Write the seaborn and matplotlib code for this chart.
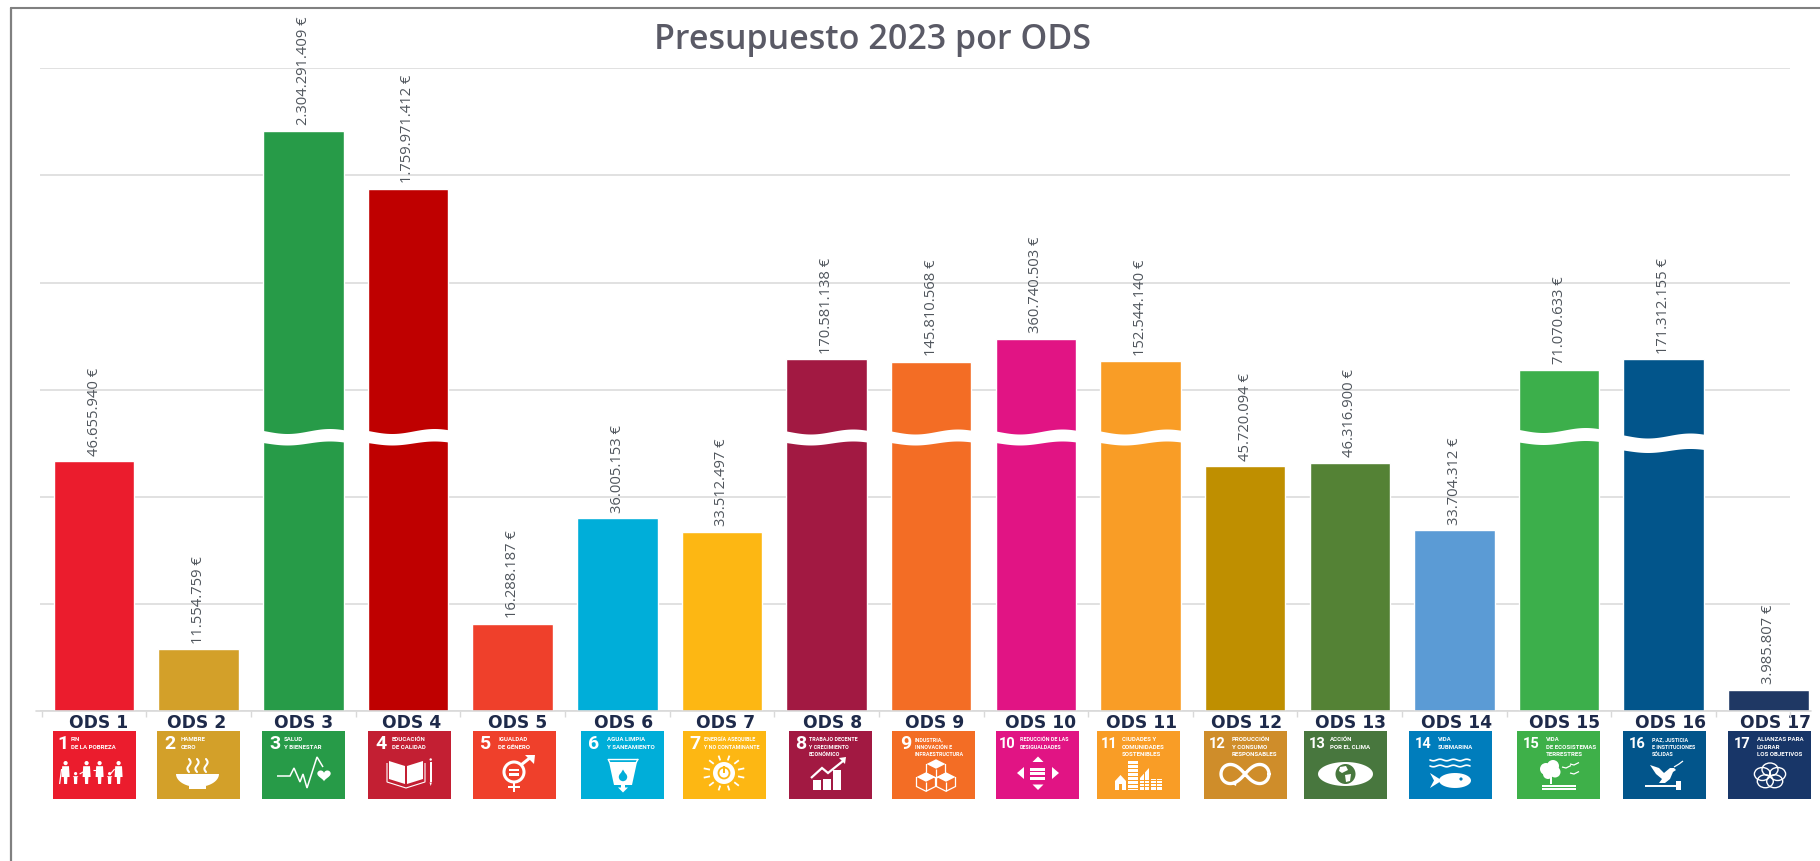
import matplotlib
matplotlib.use('Agg')

import numpy as np
import pandas as pd
import seaborn as sns
import matplotlib.pyplot as plt
from matplotlib.lines import Line2D
from matplotlib.patches import Circle, Ellipse, Polygon, Rectangle

# --- chart data ---
ods_labels = [f"ODS {n}" for n in range(1, 18)]
budget = [46655940, 11554759, 2304291409, 1759971412, 16288187, 36005153, 33512497,
          170581138, 145810568, 360740503, 152544140, 45720094, 46316900, 33704312,
          71070633, 171312155, 3985807]
bar_colors = ["#EB1C2D", "#D3A029", "#279B48", "#BF0000", "#EF402B", "#00AED9", "#FDB713",
              "#A21942", "#F36D25", "#E11484", "#F99D26", "#BF8F00", "#548235", "#5B9BD5",
              "#3CAF4B", "#02558B", "#1F3864"]
tile_colors = ["#EB1C2D", "#D3A029", "#279B48", "#C31F33", "#EF402B", "#00AED9", "#FDB713",
               "#A21942", "#F36D25", "#E11484", "#F99D26", "#CF8D2A", "#48773E", "#007DBC",
               "#3EB049", "#02558B", "#183668"]
tile_texts = [["FIN", "DE LA POBREZA"], ["HAMBRE", "CERO"], ["SALUD", "Y BIENESTAR"],
              ["EDUCACIÓN", "DE CALIDAD"], ["IGUALDAD", "DE GÉNERO"],
              ["AGUA LIMPIA", "Y SANEAMIENTO"], ["ENERGÍA ASEQUIBLE", "Y NO CONTAMINANTE"],
              ["TRABAJO DECENTE", "Y CRECIMIENTO", "ECONÓMICO"],
              ["INDUSTRIA,", "INNOVACIÓN E", "INFRAESTRUCTURA"],
              ["REDUCCIÓN DE LAS", "DESIGUALDADES"],
              ["CIUDADES Y", "COMUNIDADES", "SOSTENIBLES"],
              ["PRODUCCIÓN", "Y CONSUMO", "RESPONSABLES"], ["ACCIÓN", "POR EL CLIMA"],
              ["VIDA", "SUBMARINA"], ["VIDA", "DE ECOSISTEMAS", "TERRESTRES"],
              ["PAZ, JUSTICIA", "E INSTITUCIONES", "SÓLIDAS"],
              ["ALIANZAS PARA", "LOGRAR", "LOS OBJETIVOS"]]

# broken axis: linear up to the cut, then a much flatter stretch
scale_values = [0, 52e6, 53e6, 3000e6]
scale_display = [0, 52e6, 63.32e6, 122.26e6]
grid_display = [0, 20e6, 40e6, 60e6, 80e6, 100e6, 120e6]

# --- layout, in pixels of the final image ---
W, H = 1820, 861
AX_LEFT, AX_RIGHT, AX_TOP, AX_BOTTOM = 40, 1790, 68.3, 711
FIRST_CENTER, STEP = 94, 104.65
tile_left = [52.6, 157, 262, 368, 473, 581, 683, 789, 892, 996, 1097, 1204, 1304, 1409, 1517, 1623, 1728]
label_nudge = [4, -2, 0, 2, 3, 1, 1, 2, 1, 3, 3, 1, 5, 6, 6, 6, 6]
tile_num_x = [10, 13, 13, 13, 13, 13, 12, 12, 14, 13, 14, 15, 15, 16, 16, 16, 16]
tile_text_x = [18, 24, 22, 24, 25, 26, 21, 20, 23, 24, 25, 28, 26, 29, 29, 29, 29]
TILE_W, TILE_H, TILE_TOP = 83, 68, 731
break_bars = [2, 3, 7, 8, 9, 10, 14, 15]
break_top = [431, 431, 431.5, 431.5, 431.5, 431.5, 430, 435.5]
break_height = [12, 12, 11.5, 11.5, 11.5, 11.5, 12.5, 15]
BAR_WIDTH = 0.77

NAVY = "#1E2A4A"
GRID = "#D9D9D9"
FRAME = "#808080"
TEXT_GRAY = "#4F555C"
NARROW = ["Liberation Sans Narrow", "Roboto", "DejaVu Sans"]

sns.set_theme(style="whitegrid")


def forward(v):
    return np.interp(v, scale_values, scale_display)


def inverse(d):
    return np.interp(d, scale_display, scale_values)


def to_x(px):
    return (px - FIRST_CENTER) / STEP


def euro(v):
    return f"{v:,.0f}".replace(",", ".") + " €"


# --- tile icons, drawn in tile pixels (x right, y down) ---
def poly(ax, pts, color="white", **kw):
    ax.add_patch(Polygon(pts, closed=True, facecolor=color, edgecolor="none", **kw))


def line(ax, pts, lw=1.2, color="white"):
    xs, ys = zip(*pts)
    ax.plot(xs, ys, color=color, lw=lw, solid_capstyle="butt", solid_joinstyle="miter")


def rect(ax, x, y, w, h, color="white"):
    ax.add_patch(Rectangle((x, y), w, h, facecolor=color, edgecolor="none"))


def disc(ax, x, y, r, color="white"):
    ax.add_patch(Circle((x, y), r, facecolor=color, edgecolor="none"))


def ring(ax, x, y, rx, ry, lw=1.2):
    ax.add_patch(Ellipse((x, y), 2 * rx, 2 * ry, facecolor="none", edgecolor="white", lw=lw))


def icon_1(ax, c):
    for x, tall in zip([13, 23, 34, 47, 57, 66], [1, 0, 1, 1, 0, 1]):
        top = 30 if tall else 41
        r = 2.1 if tall else 1.6
        hw = 3.4 if tall else 2.2
        disc(ax, x, top + r, r)
        poly(ax, [(x - hw, top + 2 * r + 1), (x + hw, top + 2 * r + 1), (x + hw + 0.6, 46),
                  (x + 1.8, 46), (x + 1.5, 53), (x - 1.5, 53), (x - 1.8, 46), (x - hw - 0.6, 46)])
    line(ax, [(7, 53), (9, 38)], 0.9)
    line(ax, [(34, 39), (27, 43)], 0.8)
    line(ax, [(47, 39), (40, 39)], 0.8)
    line(ax, [(57, 44), (62, 38)], 0.8)


def icon_2(ax, c):
    t = np.linspace(0, np.pi, 30)
    bowl = [(19, 43)] + list(zip(40.5 - 21.5 * np.cos(t), 43 + 13 * np.sin(t))) + [(62, 43)]
    poly(ax, bowl)
    rect(ax, 32, 55, 17, 3.4)
    for x in [32, 40, 49]:
        y = np.linspace(28, 41, 20)
        ax.plot(x + 1.6 * np.sin((y - 28) / 13 * 2 * np.pi), y, color="white", lw=1.5)


def icon_3(ax, c):
    line(ax, [(15, 45), (28, 45), (32, 37), (38, 51), (41, 43), (45, 57), (55, 26), (61, 36)], 1.1)
    t = np.linspace(0, 2 * np.pi, 50)
    hx = 16 * np.sin(t) ** 3
    hy = 13 * np.cos(t) - 5 * np.cos(2 * t) - 2 * np.cos(3 * t) - np.cos(4 * t)
    poly(ax, list(zip(62 + hx * 0.42, 44 - hy * 0.38)))


def icon_4(ax, c):
    poly(ax, [(21, 30), (37, 35), (37, 53), (21, 48)])
    poly(ax, [(55, 30), (39, 35), (39, 53), (55, 48)])
    line(ax, [(19, 32), (19, 51), (38, 57), (57, 51), (57, 32)], 0.8)
    rect(ax, 61.5, 31, 2.4, 20)
    disc(ax, 62.7, 28.5, 1.2)
    poly(ax, [(61.5, 51.5), (63.9, 51.5), (62.7, 55)])


def icon_5(ax, c):
    ring(ax, 41, 41, 10, 10, 2.2)
    rect(ax, 36, 37.5, 10, 2.3)
    rect(ax, 36, 42.2, 10, 2.3)
    rect(ax, 39.6, 51, 2.8, 10)
    rect(ax, 35, 54.5, 12, 2.6)
    line(ax, [(48, 34), (58, 26)], 2.2)
    poly(ax, [(52, 24), (62, 24), (61, 33)])


def icon_6(ax, c):
    line(ax, [(27, 28), (57, 28)], 1)
    line(ax, [(27, 28), (29, 32)], 1)
    line(ax, [(57, 28), (55, 32)], 1)
    poly(ax, [(28, 31), (56, 31), (51, 54), (33, 54)])
    disc(ax, 42, 46, 4.2, c)
    poly(ax, [(42, 38.5), (38.4, 44.5), (45.6, 44.5)], color=c)
    rect(ax, 40.4, 54, 3.2, 3)
    poly(ax, [(37, 56.5), (47, 56.5), (42, 61.5)])


def icon_7(ax, c):
    for a in np.arange(0, 360, 30):
        r = np.radians(a + 15)
        line(ax, [(41 + 14.5 * np.cos(r), 42 + 13 * np.sin(r)),
                  (41 + 21 * np.cos(r), 42 + 18 * np.sin(r))], 1.3)
    disc(ax, 41, 42, 11)
    ring(ax, 41, 42, 5.5, 5.5, 1.3)
    ax.patches[-1].set_edgecolor(c)
    rect(ax, 39.8, 35, 2.4, 7, c)


def icon_8(ax, c):
    for x, top in zip([24, 34, 44], [49, 48, 39]):
        rect(ax, x, top, 8, 59 - top)
    line(ax, [(22, 47), (33, 37), (39, 42), (54, 30)], 1.6)
    poly(ax, [(50, 27), (57, 26), (56, 33)])


def icon_9(ax, c):
    def cube(x, y, s=9.5):
        poly(ax, [(x - s, y), (x, y - s * 0.5), (x + s, y), (x, y + s * 0.5)])
        line(ax, [(x - s, y), (x - s, y + s), (x, y + 1.5 * s), (x + s, y + s), (x + s, y)], 0.9)
        line(ax, [(x, y + s * 0.5), (x, y + 1.5 * s)], 0.9)
    cube(44, 33)
    cube(34, 46)
    cube(54, 46)


def icon_10(ax, c):
    poly(ax, [(42, 25.5), (36.5, 31), (47.5, 31)])
    poly(ax, [(42, 59), (36.5, 53.5), (47.5, 53.5)])
    poly(ax, [(21, 42), (28, 36), (28, 48)])
    poly(ax, [(63, 42), (56, 36), (56, 48)])
    for y in [36.5, 41, 45.5]:
        rect(ax, 34, y, 15, 3)


def icon_11(ax, c):
    poly(ax, [(18, 50), (23.5, 44), (29, 50), (29, 59), (18, 59)])
    rect(ax, 22, 53, 3, 6, c)
    rect(ax, 31, 30, 10, 29)
    poly(ax, [(43, 47), (52, 37), (52, 59), (43, 59)])
    rect(ax, 54, 48, 11, 11)
    for y in np.arange(33, 58, 4):
        rect(ax, 31, y, 10, 0.8, c)
    for y in [49, 52, 55]:
        rect(ax, 43, y, 22, 0.8, c)
    rect(ax, 35.7, 30, 0.7, 29, c)
    rect(ax, 47, 38, 0.7, 21, c)
    rect(ax, 59, 48, 0.7, 11, c)


def icon_12(ax, c):
    t = np.linspace(0, 2 * np.pi, 120)
    d = 1 + np.sin(t) ** 2
    ax.plot(41 + 24 * np.cos(t) / d, 43 + 27 * np.sin(t) * np.cos(t) / d, color="white", lw=2.4)
    poly(ax, [(26, 52), (33, 49), (32, 55)])


def icon_13(ax, c):
    t = np.linspace(0, np.pi, 30)
    upper = list(zip(41.5 - 27.5 * np.cos(t), 43 - 12 * np.sin(t)))
    lower = list(zip(41.5 + 27.5 * np.cos(t), 43 + 12 * np.sin(t)))
    poly(ax, upper + lower)
    disc(ax, 41.5, 43, 10, c)
    poly(ax, [(36, 36), (42, 35), (44, 39), (38, 42), (35, 40)])
    poly(ax, [(41, 44), (47, 43), (46, 50), (42, 51)])


def icon_14(ax, c):
    for y0 in [29, 35]:
        x = np.linspace(21, 61, 60)
        ax.plot(x, y0 + 0.8 * np.sin((x - 21) / 40 * 6 * np.pi), color="white", lw=1.2)
    t = np.linspace(0, 2 * np.pi, 40)
    poly(ax, list(zip(46 + 16 * np.cos(t), 49.5 + 7.5 * np.sin(t))))
    poly(ax, [(33, 49.5), (21, 42), (25, 49.5), (21, 57)])
    disc(ax, 52, 48, 1.6, c)


def icon_15(ax, c):
    disc(ax, 29, 38, 6)
    disc(ax, 36, 35, 6)
    disc(ax, 38, 41, 5.5)
    disc(ax, 31, 43, 5)
    rect(ax, 33, 44, 2.2, 9)
    for x, y in [(45, 36), (53, 33), (53, 42)]:
        line(ax, [(x, y), (x + 4, y + 1), (x + 9, y - 1.5)], 0.9)
    rect(ax, 25, 54, 34, 1.6)
    rect(ax, 25, 57.2, 34, 1.6)


def icon_16(ax, c):
    poly(ax, [(27, 34), (36, 37), (41, 42), (47, 37), (51, 37), (53, 39), (50, 41), (47, 48),
              (42, 52), (36, 52), (39, 48), (33, 43)])
    line(ax, [(51, 36), (56, 33), (60, 30)], 0.9)
    line(ax, [(22, 54.5), (53, 54.5)], 1.4)
    rect(ax, 53, 50, 5, 9)


def icon_17(ax, c):
    for a in np.arange(-90, 270, 72):
        r = np.radians(a)
        ring(ax, 42 + 8 * np.cos(r), 45 + 6.5 * np.sin(r), 8, 6.5, 1)


icons = [icon_1, icon_2, icon_3, icon_4, icon_5, icon_6, icon_7, icon_8, icon_9, icon_10,
         icon_11, icon_12, icon_13, icon_14, icon_15, icon_16, icon_17]


def draw_tile(fig, i):
    """One coloured goal square under the axis."""
    tax = fig.add_axes([tile_left[i] / W, 1 - (TILE_TOP + TILE_H) / H, TILE_W / W, TILE_H / H])
    tax.set_xlim(0, TILE_W)
    tax.set_ylim(TILE_H, 0)
    tax.set_facecolor(tile_colors[i])
    tax.grid(False)
    tax.set_xticks([])
    tax.set_yticks([])
    for spine in tax.spines.values():
        spine.set_visible(False)
    number = str(i + 1)
    tax.text(tile_num_x[i] - (1.5 if len(number) > 1 else 0), 13, number, color="white",
             fontsize=10.5 if len(number) > 1 else 14, fontweight="bold",
             family=NARROW, ha="center", va="center")
    for k, row in enumerate(tile_texts[i]):
        size = 4.4 if max(len(r) for r in tile_texts[i]) < 15 else 3.9
        tax.text(tile_text_x[i], 8.5 + k * 7.7, row, color="white", fontsize=size, fontweight="bold",
                 family=NARROW, ha="left", va="center")
    icons[i](tax, tile_colors[i])


fig = plt.figure(figsize=(W / 100, H / 100), dpi=100, facecolor="white")
ax = fig.add_axes([AX_LEFT / W, 1 - AX_BOTTOM / H, (AX_RIGHT - AX_LEFT) / W, (AX_BOTTOM - AX_TOP) / H])

df = pd.DataFrame({"ods": ods_labels, "budget": budget})
sns.barplot(data=df, x="ods", y="budget", hue="ods", palette=bar_colors, legend=False,
            width=BAR_WIDTH, saturation=1, errorbar=None, ax=ax)
ax.set_yscale("function", functions=(forward, inverse))

for container, value in zip(ax.containers, budget):
    ax.bar_label(container, labels=[euro(value)], rotation=90, padding=4, fontsize=10.6,
                 color=TEXT_GRAY, family="Open Sans")
for patch in ax.patches:
    patch.set_clip_on(False)

# white wavy cut across the bars that pass the axis break
frac = np.linspace(0, 1, 40)
wave = 2.5 * np.sin(2 * np.pi * (frac - 0.06))
for i, top, height in zip(break_bars, break_top, break_height):
    xs = i - BAR_WIDTH / 2 - 0.02 + frac * (BAR_WIDTH + 0.04)
    y_up = (AX_BOTTOM - (top + wave)) / (AX_BOTTOM - AX_TOP)
    y_low = (AX_BOTTOM - (top + height + 0.8 * wave)) / (AX_BOTTOM - AX_TOP)
    ax.fill_between(xs, y_low, y_up, color="white", lw=0, zorder=4, transform=ax.get_xaxis_transform())

ax.set_yticks(inverse(grid_display))
ax.set_ylim(0, inverse(120e6))
ax.set_xlim(to_x(AX_LEFT), to_x(AX_RIGHT))
ax.grid(False, axis="x")
ax.grid(True, axis="y", color=GRID, lw=1.1)
ax.set_xlabel("")
ax.set_ylabel("")
ax.tick_params(axis="y", left=False, labelleft=False)
for spine in ax.spines.values():
    spine.set_visible(False)

# axis line runs on under the last bar, past the plot area
ax.plot([to_x(36), to_x(1811)], [0, 0], color=GRID, lw=1.2, clip_on=False, zorder=1)

label_pos = [to_x(tile_left[i] + TILE_W / 2 + label_nudge[i]) for i in range(17)]
ax.set_xticks(label_pos)
ax.set_xticklabels(ods_labels, fontsize=12.3, fontweight="bold", color=NAVY, family="DejaVu Sans")
ax.tick_params(axis="x", which="major", length=0, pad=2.5)
ax.set_xticks(list(np.arange(17) - 0.5) + [to_x(AX_RIGHT)], minor=True)
ax.tick_params(axis="x", which="minor", bottom=True, length=4, width=1, color=GRID)

fig.text(872 / W, 1 - 40 / H, "Presupuesto 2023 por ODS", ha="center", va="center", fontsize=24.5,
         fontweight="semibold", color="#5A5A66", family="Open Sans")

for i in range(17):
    draw_tile(fig, i)

# grey frame on the top and left only
fig.add_artist(Line2D([10.5 / W, 1], [1 - 7.5 / H, 1 - 7.5 / H], color=FRAME, lw=1.5))
fig.add_artist(Line2D([10.5 / W, 10.5 / W], [0, 1 - 7.5 / H], color=FRAME, lw=1.6))

fig.savefig("out.png", dpi=100)
plt.close(fig)
